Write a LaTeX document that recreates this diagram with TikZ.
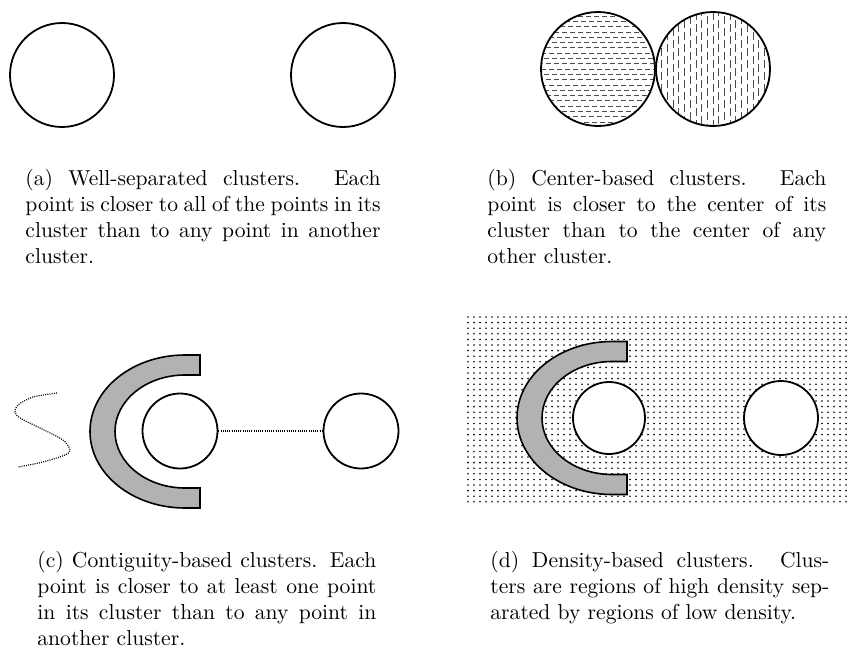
\documentclass[tikz,border=0pt]{standalone}
\usetikzlibrary{positioning}
\tikzset{
  ring/.style={circle, draw, line width=1.8pt, minimum size=#1, inner sep=0pt},
  ring/.default=75pt,
  hatch/.style={black!70, line width=0.7pt},
  dotline/.style={line width=1.2pt, dash pattern=on 1pt off 1.2pt},
  cband/.style={fill=gray!60, draw, line width=1.6pt},
  caption/.style={anchor=north west, inner sep=0pt, align=justify,
    font=\fontsize{10}{12}\selectfont, scale=2.16, transform shape},
  crescent/.pic={
    \filldraw[cband] (0,-76.5) -- (-15,-76.5) arc (270:90:95 and 76.5) -- (0,76.5)
      -- (0,56.5) -- (-15,56.5) arc (90:270:70 and 56.5) -- (0,-56.5) -- cycle;
  }
}
\begin{document}
\begin{tikzpicture}[x=1pt,y=-1pt]
    \useasboundingbox (0,0) rectangle (848,648);

    % (a) well-separated
    \node[ring=104pt] (a1) at (62,75) {};
    \node[ring=104pt] (a2) at (343,75) {};

    % (b) center-based
    \node[ring=114pt, path picture={
      \foreach \k [evaluate=\k as \ph using {mod(\k+30,3)*2.6}] in {-11,...,11}
        \draw[hatch, dash pattern=on 5pt off 3pt, dash phase=\ph pt]
          ([yshift=\k*5.3pt]path picture bounding box.west) -- ([yshift=\k*5.3pt]path picture bounding box.east);
    }] (b1) at (598,69) {};
    \node[ring=114pt, path picture={
      \foreach \k [evaluate=\k as \ph using {mod(\k+30,3)*4}] in {-10,...,10}
        \draw[hatch, dash pattern=on 8pt off 4pt, dash phase=\ph pt]
          ([xshift=\k*5.7pt]path picture bounding box.north) -- ([xshift=\k*5.7pt]path picture bounding box.south);
    }] (b2) at (713,69) {};

    % (c) contiguity-based
    \draw[dotline] plot[smooth] coordinates {(57,393) (33,397) (18,405) (15,412) (20,418) (40,428)
      (63,440) (70,450) (65,455) (43,462) (18,467)};
    \pic at (200,431.5) {crescent};
    \node[ring] (c1) at (180,431) {};
    \node[ring] (c2) at (361,431) {};
    \draw[dotline] (c1) -- (c2);

    % (d) density-based
    \foreach \i in {0,...,63}
      \foreach \j in {0,...,33}
        \fill (468+\i*6, 317+\j*5.6) circle (0.9);
    \pic at (627,418) {crescent};
    \node[ring=72pt, fill=white] (d1) at (609,418) {};
    \node[ring=74pt, fill=white] (d2) at (781,418) {};

    % captions
    \node[caption, text width=164.4pt] (capa) at (25,168.8) {(a) Well-separated clusters. Each\linebreak
      point is closer to all of the points in its\linebreak cluster than to any point in another\linebreak cluster.};
    \node[caption, text width=156.9pt] (capb) at (487,168.8) {(b) Center-based clusters. Each\linebreak
      point is closer to the center of its\linebreak cluster than to the center of any\linebreak other cluster.};
    \node[caption, text width=156.9pt] (capc) at (37,550.8) {(c) Contiguity-based clusters. Each\linebreak
      point is closer to at least one point\linebreak in its cluster than to any point in\linebreak another cluster.};
    \node[caption, text width=156.9pt] (capd) at (490,550.8) {(d) Density-based clusters. Clus-\linebreak
      ters are regions of high density sep-\linebreak arated by regions of low density.};
\end{tikzpicture}
\end{document}
